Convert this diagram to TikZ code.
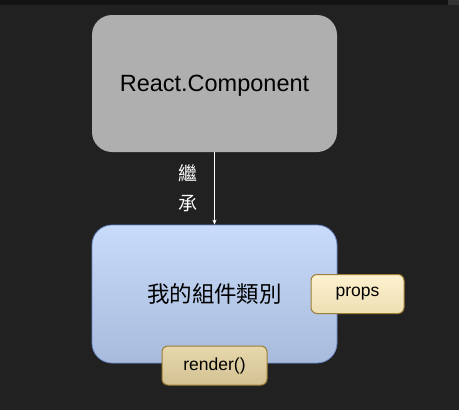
\documentclass[tikz,border=0pt]{standalone}
\usepackage{fontspec}
\setmainfont{Liberation Sans}
\newfontfamily\cjk{Noto Sans CJK TC}
\usetikzlibrary{arrows.meta}
\definecolor{bg}{HTML}{212122}
\definecolor{strip}{HTML}{131313}
\definecolor{stripbox}{HTML}{343434}
\definecolor{grayfill}{HTML}{AFAFAF}
\definecolor{bluetop}{HTML}{C9DBFA}
\definecolor{bluebot}{HTML}{A8BBDC}
\definecolor{blueline}{HTML}{6A8AC4}
\definecolor{proptop}{HTML}{FDF1CF}
\definecolor{propbot}{HTML}{EEDFB3}
\definecolor{rendtop}{HTML}{E7D8AD}
\definecolor{rendbot}{HTML}{D2C192}
\definecolor{goldline}{HTML}{9C7F36}
\tikzset{
  bigbox/.style={rounded corners=20pt, minimum width=245pt, minimum height=137pt, inner sep=0pt, text=black},
  smallbox/.style={rounded corners=6pt, draw=goldline, line width=1pt, inner sep=0pt, minimum height=39pt, text=black, font=\fontsize{17.5}{20}\selectfont},
  inherit/.style={-{Stealth[length=5pt,width=4pt]}, white, line width=0.6pt}
}
\begin{document}
\begin{tikzpicture}[x=1pt,y=-1pt]
\fill[bg] (0,0) rectangle (459,410);
\useasboundingbox (0,0) rectangle (459,410);
\fill[strip] (0,0) rectangle (459,5);
\fill[stripbox] (448,0) rectangle (459,5);
\node[bigbox, fill=grayfill, text depth=0pt, font=\fontsize{23.5}{26}\selectfont] (base) at (214.5,83.5) {React.Component};
\node[bigbox, draw=blueline, line width=0.8pt, top color=bluetop, bottom color=bluebot, minimum height=138pt, font=\cjk\fontsize{22.5}{26}\selectfont] (mine) at (214.5,294) {我的組件類別};
\node[smallbox, top color=proptop, bottom color=propbot, minimum width=93pt] (props) at (357.5,294) {props};
\node[smallbox, top color=rendtop, bottom color=rendbot, minimum width=105pt] (render) at (214.5,365.5) {render()};
\draw[inherit] (base.south) -- (mine.north)
  node[midway, left=17pt, inner sep=0pt, text=white, align=center, font=\cjk\fontsize{19}{30}\selectfont] (lbl) {繼\\承};
\end{tikzpicture}
\end{document}
